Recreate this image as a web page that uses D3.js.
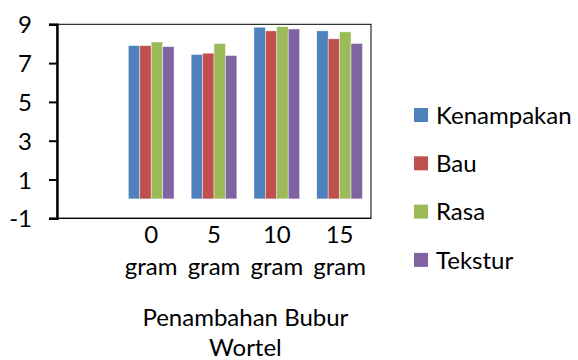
<!DOCTYPE html>
<html>
<head>
<meta charset="utf-8">
<script src="https://cdn.jsdelivr.net/npm/d3@7/dist/d3.min.js"></script>
<style>
  html, body { margin: 0; padding: 0; background: #fff; }
  svg { display: block; }
  text { font-family: "Lato", "Open Sans", sans-serif; fill: #000; }
</style>
</head>
<body>
<svg id="chart" width="578" height="360"></svg>
<script>
const categories = ["", "0 gram", "5 gram", "10 gram", "15 gram"];
const seriesNames = ["Kenampakan", "Bau", "Rasa", "Tekstur"];
const seriesColors = ["#4F81BD", "#C0504D", "#9BBB59", "#8064A2"];
const kenampakan = [null, 7.90, 7.44, 8.85, 8.66];
const bau        = [null, 7.90, 7.51, 8.66, 8.25];
const rasa       = [null, 8.09, 8.01, 8.88, 8.61];
const tekstur    = [null, 7.85, 7.39, 8.76, 8.01];
const yTicks = [-1, 1, 3, 5, 7, 9];
const xTitleLines = ["Penambahan Bubur", "Wortel"];

const seriesValues = [kenampakan, bau, rasa, tekstur];

const svg = d3.select("#chart");
const plot = { left: 57, right: 371, top: 24.3, bottom: 218.3 };
const fontSize = 24;

const x = d3.scaleBand().domain(categories).range([plot.left, plot.right]).padding(0);
const y = d3.scaleLinear().domain([-1, 9]).range([plot.bottom, plot.top]);

const bw = x.bandwidth();
const gapRatio = 1.5;
const x1 = d3.scaleBand().domain(seriesNames)
  .range([bw * (gapRatio / 2) / (4 + gapRatio), bw * (4 + gapRatio / 2) / (4 + gapRatio)])
  .padding(0);

// plot border
svg.append("rect")
  .attr("x", plot.left).attr("y", plot.top)
  .attr("width", plot.right - plot.left).attr("height", plot.bottom - plot.top)
  .attr("fill", "none").attr("stroke", "#000").attr("stroke-width", 1);

// bars
const groups = svg.append("g").selectAll("g")
  .data(categories.map((c, i) => ({ c, i })))
  .join("g")
  .attr("transform", d => `translate(${x(d.c)},0)`);

groups.selectAll("rect")
  .data(d => seriesNames.map((s, k) => ({ s, k, v: seriesValues[k][d.i] })).filter(e => e.v != null))
  .join("rect")
  .attr("x", d => x1(d.s))
  .attr("width", x1.bandwidth())
  .attr("y", d => y(d.v))
  .attr("height", d => y(0) - y(d.v))
  .attr("fill", d => seriesColors[d.k])
  .attr("stroke", "#fff")
  .attr("stroke-opacity", 0.7)
  .attr("stroke-width", 0.6);

// y axis
const yAxis = svg.append("g")
  .attr("transform", `translate(${plot.left},0)`)
  .call(d3.axisLeft(y).tickValues(yTicks).tickSize(8).tickPadding(17).tickFormat(d3.format("d")));
yAxis.select(".domain").attr("stroke", "#000").attr("stroke-width", 2.4);
yAxis.selectAll(".tick line").attr("stroke", "#000").attr("stroke-width", 2);
yAxis.selectAll(".tick text")
  .style("font-family", "Lato, 'Open Sans', sans-serif")
  .style("font-size", fontSize + "px")
  .attr("fill", "#000")
  .attr("dy", "0.36em")
  .text(d => d < 0 ? "-" + Math.abs(d) : d);

// bottom axis line
svg.append("line")
  .attr("x1", plot.left).attr("x2", plot.right)
  .attr("y1", plot.bottom).attr("y2", plot.bottom)
  .attr("stroke", "#000").attr("stroke-width", 1.2);

// x category labels (two lines)
const xl = svg.append("g").selectAll("text")
  .data(categories.filter(c => c !== ""))
  .join("text")
  .attr("x", d => x(d) + bw / 2)
  .attr("y", 243)
  .attr("text-anchor", "middle")
  .style("font-size", fontSize + "px");
xl.selectAll("tspan")
  .data(d => d.split(" "))
  .join("tspan")
  .attr("x", function() { return d3.select(this.parentNode).attr("x"); })
  .attr("dy", (d, i) => i === 0 ? 0 : 32)
  .text(d => d);

// x title
const tx = (x(categories[1]) + x(categories[4]) + bw) / 2;
svg.append("text")
  .attr("x", tx).attr("y", 326)
  .attr("text-anchor", "middle")
  .style("font-size", fontSize + "px")
  .selectAll("tspan")
  .data(xTitleLines)
  .join("tspan")
  .attr("x", tx)
  .attr("dy", (d, i) => i === 0 ? 0 : 30)
  .text(d => d);

// legend
const legend = svg.append("g").attr("transform", "translate(414,115)");
const li = legend.selectAll("g")
  .data(seriesNames)
  .join("g")
  .attr("transform", (d, i) => `translate(0,${i * 48.3})`);
li.append("rect")
  .attr("x", 0).attr("y", -7).attr("width", 14).attr("height", 14)
  .attr("fill", (d, i) => seriesColors[i]);
li.append("text")
  .attr("x", 22).attr("y", 0).attr("dy", "0.36em")
  .style("font-size", fontSize + "px")
  .text(d => d);
</script>
</body>
</html>
